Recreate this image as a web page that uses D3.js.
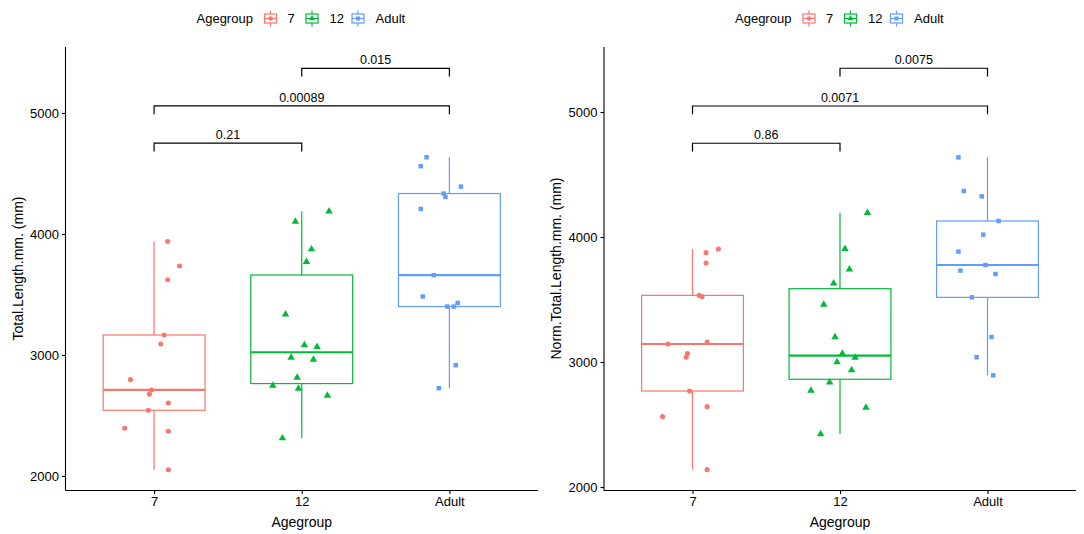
<!DOCTYPE html>
<html>
<head>
<meta charset="utf-8">
<script src="https://cdn.jsdelivr.net/npm/d3@7"></script>
<style>
  html, body { margin: 0; padding: 0; background: #fff; }
  svg { display: block; }
  text { font-family: "Liberation Sans", Arial, sans-serif; fill: #000; }
</style>
</head>
<body>
<svg id="chart" width="1084" height="534"></svg>
<script>
// ---------------- DATA ----------------
const categories = ["7", "12", "Adult"];
const legendTitle = "Agegroup";
const xTitle = "Agegroup";
const yTicks = [2000, 3000, 4000, 5000];

// Left panel: Total.Length.mm.
const leftTitle = "Total.Length.mm. (mm)";
const left7 = [3937, 3736, 3622, 3165, 3091, 2796, 2711, 2676, 2603, 2543, 2395, 2370, 2052];
const left7Jitter = [0.092, 0.173, 0.092, 0.068, 0.045, -0.160, -0.018, -0.032, 0.097, -0.039, -0.199, 0.097, 0.097];
const left12 = [4187, 4102, 3874, 3769, 3336, 3081, 3067, 2978, 2962, 2813, 2747, 2722, 2664, 2312];
const left12Jitter = [0.185, -0.043, 0.066, 0.032, -0.110, 0.018, 0.104, -0.072, 0.079, -0.031, -0.196, -0.022, 0.174, -0.131];
const leftAdult = [4634, 4560, 4391, 4334, 4306, 4207, 3659, 3483, 3430, 3400, 3400, 2915, 2725];
const leftAdultJitter = [-0.155, -0.194, 0.078, -0.039, -0.027, -0.194, -0.106, -0.180, 0.056, -0.014, 0.029, 0.043, -0.072];
const leftPairs = [["12", "Adult"], ["7", "Adult"], ["7", "12"]];
const leftPValues = ["0.015", "0.00089", "0.21"];
const leftBracketY = [5369, 5058, 4750];

// Right panel: Norm.Total.Length.mm.
const rightTitle = "Norm.Total.Length.mm. (mm)";
const right7 = [3904, 3875, 3792, 3533, 3523, 3160, 3144, 3067, 3038, 2768, 2643, 2563, 2139];
const right7Jitter = [0.176, 0.092, 0.092, 0.045, 0.065, 0.099, -0.165, -0.034, -0.043, -0.020, 0.099, -0.203, 0.099];
const right12 = [4194, 3906, 3741, 3629, 3459, 3200, 3067, 3035, 3000, 2936, 2837, 2771, 2635, 2424];
const right12Jitter = [0.186, 0.034, 0.064, -0.043, -0.110, -0.034, 0.016, 0.102, -0.020, 0.079, -0.070, -0.197, 0.176, -0.131];
const rightAdult = [4637, 4368, 4325, 4128, 4019, 3883, 3776, 3731, 3704, 3517, 3200, 3038, 2893];
const rightAdultJitter = [-0.197, -0.161, -0.039, 0.075, -0.029, -0.197, -0.014, -0.183, 0.054, -0.106, 0.027, -0.074, 0.039];
const rightPairs = [["12", "Adult"], ["7", "Adult"], ["7", "12"]];
const rightPValues = ["0.0075", "0.0071", "0.86"];
const rightBracketY = [5350, 5048, 4750];

const colors = ["#F8766D", "#00BA38", "#619CFF"];
const shapes = [d3.symbolCircle, d3.symbolTriangle, d3.symbolSquare];

// ---------------- DRAW ----------------
const svg = d3.select("#chart");
const FS = 13;
const TFS = 14;

function panel(cfg) {
  const g = svg.append("g");
  const x = d3.scalePoint().domain(categories).range([cfg.x0, cfg.x1]).padding(0.6);
  const step = x.step();
  const y = d3.scaleLinear().domain(cfg.yDomain).range([490, 47]);
  const boxW = 0.69 * step;

  // axes
  const yAxis = d3.axisLeft(y).tickValues(yTicks).tickSize(3.5).tickPadding(3).tickFormat(d3.format("d"));
  const ya = g.append("g").attr("transform", `translate(${cfg.x0},0)`).call(yAxis);
  ya.select(".domain").attr("d", `M0,47V490.5`);
  const xAxis = d3.axisBottom(x).tickSize(3.5).tickPadding(3);
  const xa = g.append("g").attr("transform", `translate(0,490.5)`).call(xAxis);
  xa.select(".domain").attr("d", `M${cfg.x0},0H${cfg.x1}`);
  [ya, xa].forEach(a => {
    a.selectAll(".domain").attr("stroke", "#000").attr("stroke-width", 1.1);
    a.selectAll(".tick line").attr("stroke", "#000").attr("stroke-width", 1.1);
    a.selectAll(".tick text").attr("font-size", FS).attr("fill", "#000")
      .style("font-family", '"Liberation Sans", Arial, sans-serif');
  });

  // axis titles
  g.append("text").attr("x", (cfg.x0 + cfg.x1) / 2).attr("y", 526.5)
    .attr("text-anchor", "middle").attr("font-size", TFS).text(xTitle);
  g.append("text").attr("transform", `translate(${cfg.x0 - 43},${(47 + 490) / 2}) rotate(-90)`)
    .attr("text-anchor", "middle").attr("font-size", TFS).text(cfg.yTitle);

  // boxes
  cfg.groups.forEach((vals, i) => {
    const cat = categories[i];
    const cx = x(cat);
    const s = vals.slice().sort(d3.ascending);
    const q1 = d3.quantile(s, 0.25), med = d3.quantile(s, 0.5), q3 = d3.quantile(s, 0.75);
    const iqr = q3 - q1;
    const lo = d3.min(s.filter(v => v >= q1 - 1.5 * iqr));
    const hi = d3.max(s.filter(v => v <= q3 + 1.5 * iqr));
    const col = colors[i];
    const bg = g.append("g");
    bg.append("line").attr("x1", cx).attr("x2", cx).attr("y1", y(hi)).attr("y2", y(q3))
      .attr("stroke", col).attr("stroke-width", 1.2);
    bg.append("line").attr("x1", cx).attr("x2", cx).attr("y1", y(q1)).attr("y2", y(lo))
      .attr("stroke", col).attr("stroke-width", 1.2);
    bg.append("rect").attr("x", cx - boxW / 2).attr("width", boxW)
      .attr("y", y(q3)).attr("height", y(q1) - y(q3))
      .attr("fill", "#fff").attr("stroke", col).attr("stroke-width", 1.2);
    bg.append("line").attr("x1", cx - boxW / 2).attr("x2", cx + boxW / 2)
      .attr("y1", y(med)).attr("y2", y(med)).attr("stroke", col).attr("stroke-width", 2.2);
    // jittered points
    const sym = d3.symbol().type(shapes[i]).size(i === 1 ? 24 : 20);
    bg.selectAll("path.pt").data(vals).enter().append("path").attr("class", "pt")
      .attr("d", sym)
      .attr("transform", (v, j) => `translate(${cx + cfg.jitter[i][j] * step},${y(v)})`)
      .attr("fill", col);
  });

  // significance brackets
  cfg.pairs.forEach((p, k) => {
    const xa1 = x(p[0]), xa2 = x(p[1]);
    const yy = y(cfg.bracketY[k]);
    g.append("path").attr("d", `M${xa1},${yy + 8.3}V${yy}H${xa2}V${yy + 8.3}`)
      .attr("fill", "none").attr("stroke", "#000").attr("stroke-width", 1.2);
    g.append("text").attr("x", (xa1 + xa2) / 2).attr("y", yy - 4)
      .attr("text-anchor", "middle").attr("font-size", 12.5).text(cfg.pvals[k]);
  });

  // legend
  const lg = g.append("g").attr("transform", `translate(${cfg.x0},0)`);
  lg.append("text").attr("x", 131).attr("y", 23).attr("font-size", FS).text(legendTitle);
  const keyX = [205, 246.5, 292.5];
  const labX = [222, 264, 310];
  categories.forEach((c, i) => {
    const kx = keyX[i], col = colors[i];
    lg.append("line").attr("x1", kx).attr("x2", kx).attr("y1", 10.5).attr("y2", 26.5)
      .attr("stroke", col).attr("stroke-width", 1.2);
    lg.append("rect").attr("x", kx - 6).attr("y", 14).attr("width", 12).attr("height", 9)
      .attr("fill", "#fff").attr("stroke", col).attr("stroke-width", 1.2);
    lg.append("line").attr("x1", kx - 6).attr("x2", kx + 6).attr("y1", 18.5).attr("y2", 18.5)
      .attr("stroke", col).attr("stroke-width", 1.2);
    lg.append("path").attr("d", d3.symbol().type(shapes[i]).size(16))
      .attr("transform", `translate(${kx},18.5)`).attr("fill", col);
    lg.append("text").attr("x", labX[i]).attr("y", 23).attr("font-size", FS).text(c);
  });
}

panel({
  x0: 65.5, x1: 538, yDomain: [1884, 5545], yTitle: leftTitle,
  groups: [left7, left12, leftAdult], jitter: [left7Jitter, left12Jitter, leftAdultJitter],
  pairs: leftPairs, pvals: leftPValues, bracketY: leftBracketY
});
panel({
  x0: 604, x1: 1076, yDomain: [1976, 5520], yTitle: rightTitle,
  groups: [right7, right12, rightAdult], jitter: [right7Jitter, right12Jitter, rightAdultJitter],
  pairs: rightPairs, pvals: rightPValues, bracketY: rightBracketY
});
</script>
</body>
</html>
